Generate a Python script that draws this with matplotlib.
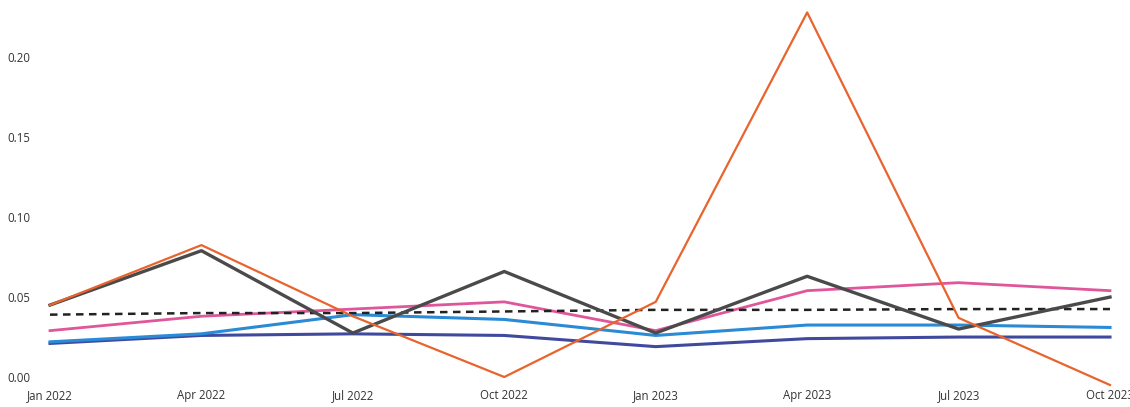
import matplotlib
matplotlib.use("Agg")
import matplotlib.pyplot as plt

# quarterly periods on the x axis
periods = ["Jan 2022", "Apr 2022", "Jul 2022", "Oct 2022",
           "Jan 2023", "Apr 2023", "Jul 2023", "Oct 2023"]

# series values
orange_vals = [0.045, 0.0825, 0.038, 0.000, 0.047, 0.228, 0.037, -0.005]
gray_vals = [0.045, 0.079, 0.0275, 0.066, 0.0275, 0.063, 0.030, 0.050]
pink_vals = [0.029, 0.038, 0.0425, 0.047, 0.029, 0.054, 0.059, 0.054]
blue_vals = [0.022, 0.027, 0.039, 0.036, 0.026, 0.0325, 0.0325, 0.031]
navy_vals = [0.021, 0.026, 0.027, 0.026, 0.019, 0.024, 0.025, 0.025]
avg_vals = [0.039, 0.040, 0.040, 0.041, 0.042, 0.042, 0.0425, 0.0425]

y_ticks = [0.00, 0.05, 0.10, 0.15, 0.20]

plt.rcParams['font.family'] = ['Open Sans', 'DejaVu Sans']

fig = plt.figure(figsize=(11.3, 4.07), dpi=100)
ax = fig.add_axes([50 / 1130, 0.0501, 1060 / 1130, 0.935])

x = list(range(len(periods)))

# draw the series (order matters for overlap)
ax.plot(x, navy_vals, color="#3f4a9e", lw=2.2, solid_joinstyle="round", clip_on=False)
ax.plot(x, blue_vals, color="#2a8ad6", lw=2.2, solid_joinstyle="round", clip_on=False)
ax.plot(x, pink_vals, color="#e0569a", lw=2.0, solid_joinstyle="round", clip_on=False)
ax.plot(x, avg_vals, color="#222222", lw=1.8, ls=(0, (3, 2.2)), clip_on=False)
ax.plot(x, gray_vals, color="#4a4a4a", lw=2.4, solid_joinstyle="round", clip_on=False)
ax.plot(x, orange_vals, color="#e8642c", lw=1.6, solid_joinstyle="round", clip_on=False)

ax.set_xlim(0, 7)
ax.set_ylim(-0.006, 0.232)

ax.set_xticks(x)
ax.set_xticklabels(periods)
ax.set_yticks(y_ticks)
ax.set_yticklabels([f"{v:.2f}" for v in y_ticks])

ax.tick_params(axis="y", length=0, pad=14, labelsize=8.3, labelcolor="#333333")
ax.tick_params(axis="x", length=0, pad=2, labelsize=8.3, labelcolor="#333333")

for s in ax.spines.values():
    s.set_visible(False)

fig.savefig("out.png", dpi=100)
